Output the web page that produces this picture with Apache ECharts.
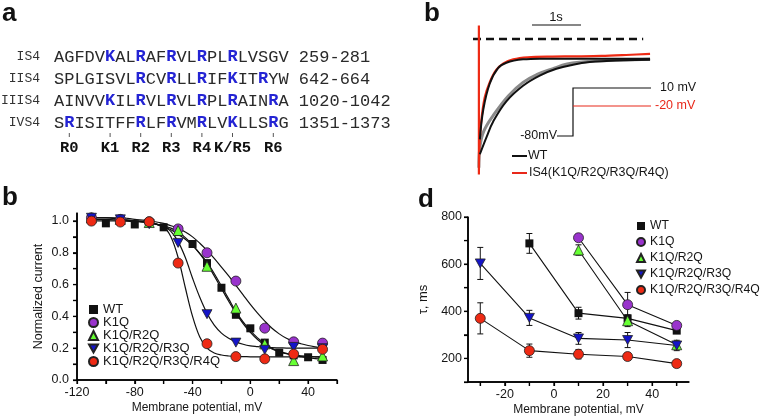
<!DOCTYPE html>
<html>
<head>
<meta charset="utf-8">
<script src="https://cdn.jsdelivr.net/npm/echarts@6/dist/echarts.min.js"></script>
<style>
html, body { margin: 0; padding: 0; background: #fff; }
#main { width: 761px; height: 417px; }
</style>
</head>
<body>
<div id="main"></div>
<script>
// panel a - S4 sequences, [X] = charged residue
var segNames = ['IS4', 'IIS4', 'IIIS4', 'IVS4'];
var segSeqs = [
    'AGFDV[K]AL[R]AF[R]VL[R]PL[R]LVSGV',
    'SPLGISVL[R]CV[R]LL[R]IF[K]IT[R]YW',
    'AINVV[K]IL[R]VL[R]VL[R]PL[R]AIN[R]A',
    'S[R]ISITFF[R]LF[R]VM[R]LV[K]LLS[R]G'
];
var segRanges = ['259-281', '642-664', '1020-1042', '1351-1373'];
var chargeLabels = ['R0', 'K1', 'R2', 'R3', 'R4', 'K/R5', 'R6'];
var chargePos = [1, 5, 8, 11, 14, 17, 21];

// panel b (top) - current traces, time (s) vs normalized current
var fastFitT = [0.02, 0.09, 0.22, 0.39, 0.56, 0.9, 1.24, 2.0, 3.49];
var fastFitI = [-0.74, -0.52, -0.33, -0.215, -0.175, -0.15, -0.145, -0.145, -0.145];
var slowFitT = [0.02, 0.16, 0.29, 0.56, 0.9, 1.24, 1.58, 1.92, 2.26, 2.6, 2.94, 3.49];
var slowFitI = [-0.85, -0.72, -0.61, -0.46, -0.345, -0.27, -0.22, -0.19, -0.17, -0.162, -0.157, -0.154];
var wtTraceT = [0.0, 0.02, 0.1, 0.3, 0.6, 0.9, 1.2, 1.5, 1.8, 2.1, 2.5, 3.0, 3.49];
var wtTraceI = [-0.95, -0.8, -0.68, -0.56, -0.42, -0.32, -0.26, -0.22, -0.185, -0.17, -0.16, -0.155, -0.15];
var mutTraceT = [0, 0, 0.01, 0.05, 0.12, 0.22, 0.35, 0.5, 0.7, 1.0, 1.5, 2.0, 2.5, 3.0, 3.49];
var mutTraceI = [0.1, -1.0, -0.8, -0.6, -0.43, -0.32, -0.23, -0.18, -0.15, -0.135, -0.13, -0.128, -0.125, -0.118, -0.11];
var zeroT = [-0.12, 3.35];

// panel b (bottom) - steady-state inactivation
var names = ['WT', 'K1Q', 'K1Q/R2Q', 'K1Q/R2Q/R3Q', 'K1Q/R2Q/R3Q/R4Q'];
var colors = ['#111111', '#9933cc', '#66ff33', '#1414c8', '#ee2a14'];
var wtV = [-110, -100, -90, -80, -70, -60, -50, -40, -30, -20, -10, 0, 10, 20, 30, 40, 50];
var wtI = [1.01, 0.985, 1.0, 0.978, 0.99, 0.96, 0.93, 0.855, 0.735, 0.58, 0.41, 0.325, 0.235, 0.172, 0.155, 0.143, 0.126];
var mutV = [-110, -90, -70, -50, -30, -10, 10, 30, 50];
var k1qI = [1.02, 1.01, 0.995, 0.95, 0.8, 0.622, 0.326, 0.24, 0.232];
var r2qI = [1.02, 1.01, 0.99, 0.94, 0.715, 0.452, 0.227, 0.122, 0.151];
var r3qI = [1.02, 1.01, 0.98, 0.862, 0.414, 0.235, 0.19, 0.208, 0.2];
var r4qI = [0.999, 0.993, 0.995, 0.735, 0.228, 0.147, 0.133, 0.163, 0.193];
var fitV = [-110, -100, -90, -80, -70, -60, -55, -50, -45, -40, -35, -30, -25, -20, -15, -10, -5, 0, 5, 10, 15, 20, 25, 30, 35, 40, 45, 50];
var fitWT = [1.01, 1.01, 1.005, 1.0, 0.99, 0.965, 0.945, 0.915, 0.885, 0.845, 0.795, 0.74, 0.67, 0.59, 0.51, 0.43, 0.365, 0.31, 0.265, 0.23, 0.2, 0.18, 0.167, 0.155, 0.147, 0.14, 0.135, 0.132];
var fitK1Q = [1.02, 1.02, 1.02, 1.01, 1.0, 0.985, 0.97, 0.955, 0.93, 0.9, 0.86, 0.815, 0.765, 0.71, 0.655, 0.595, 0.535, 0.475, 0.42, 0.37, 0.325, 0.29, 0.262, 0.242, 0.228, 0.217, 0.208, 0.2];
var fitR2Q = [1.02, 1.02, 1.01, 1.0, 0.99, 0.97, 0.955, 0.93, 0.895, 0.85, 0.795, 0.73, 0.655, 0.575, 0.495, 0.42, 0.355, 0.3, 0.255, 0.22, 0.195, 0.177, 0.165, 0.157, 0.152, 0.148, 0.146, 0.145];
var fitR3Q = [1.02, 1.02, 1.01, 1.0, 0.99, 0.965, 0.935, 0.87, 0.77, 0.64, 0.52, 0.42, 0.345, 0.295, 0.262, 0.24, 0.225, 0.215, 0.21, 0.205, 0.203, 0.202, 0.201, 0.2, 0.2, 0.2, 0.2, 0.2];
var fitR4Q = [1.0, 1.0, 1.0, 0.995, 0.99, 0.96, 0.9, 0.77, 0.58, 0.4, 0.27, 0.2, 0.17, 0.157, 0.151, 0.148, 0.147, 0.146, 0.145, 0.145, 0.145, 0.145, 0.145, 0.145, 0.145, 0.145, 0.145, 0.145];

// panel d - inactivation time constants (ms) with errors
var tauWTV = [-10, 10, 30, 50];
var tauWT = [688, 392, 370, 318];
var tauWTErr = [42, 25, 12, 10];
var tauK1QV = [10, 30, 50];
var tauK1Q = [712, 428, 340];
var tauK1QErr = [15, 52, 10];
var tauR2QV = [10, 30, 50];
var tauR2Q = [660, 360, 258];
var tauR2QErr = [22, 25, 12];
var tauR3QV = [-30, -10, 10, 30, 50];
var tauR3Q = [603, 372, 285, 278, 255];
var tauR3QErr = [68, 32, 25, 32, 22];
var tauR4QV = [-30, -10, 10, 30, 50];
var tauR4Q = [370, 233, 218, 208, 178];
var tauR4QErr = [66, 28, 20, 15, 8];

var SANS = 'Liberation Sans, Arial, sans-serif';
var MONO = 'Liberation Mono, Courier New, monospace';
var INK = '#161616';
var downTri = 'path://M0,0L10,0L5,9Z';
var symbols = ['rect', 'circle', 'triangle', downTri, 'circle'];
var symSizes = [8, 10, 10, [10, 9], 10];

function zip(xs, ys) {
    return xs.map(function (x, i) { return [x, ys[i]]; });
}
function range(a, b, step) {
    var out = [];
    for (var v = a; v <= b + 1e-9; v += step) out.push(Math.round(v * 100) / 100);
    return out;
}

var myChart = echarts.init(document.getElementById('main'));

// ---- graphic: panel a text, panel labels, protocol sketch ----
var graphics = [];
function txt(x, y, text, opt) {
    var s = {
        x: x, y: y, text: text, fontFamily: SANS, fontSize: 12.5, fill: INK,
        align: 'left', verticalAlign: 'middle'
    };
    for (var k in opt) s[k] = opt[k];
    graphics.push({ type: 'text', style: s, z: 10 });
}
function seg(x1, y1, x2, y2, color, w) {
    graphics.push({
        type: 'line', shape: { x1: x1, y1: y1, x2: x2, y2: y2 },
        style: { stroke: color, lineWidth: w }, z: 10
    });
}

var seqX = 54, charW = 10.2, rowY = [57, 79, 101, 123];
segSeqs.forEach(function (s, i) {
    var rich = s.replace(/\[(\w)\]/g, '{b|$1}') + ' ' + segRanges[i];
    txt(40, rowY[i], segNames[i], { align: 'right', fontFamily: MONO, fontSize: 13, fill: '#333' });
    txt(seqX, rowY[i], rich, {
        fontFamily: MONO, fontSize: 17, fill: '#2a2a2a',
        rich: { b: { fontFamily: MONO, fontSize: 17, fontWeight: 'bold', fill: '#2424d4' } }
    });
});
chargePos.forEach(function (p, i) {
    var cx = seqX + charW * (p + 0.5);
    seg(cx, 133, cx, 137, '#555', 1);
    txt(cx, 148, chargeLabels[i], { align: 'center', fontFamily: MONO, fontSize: 15.5, fontWeight: 'bold', fill: '#111' });
});

txt(2, 14, 'a', { fontSize: 26, fontWeight: 'bold', fill: '#111' });
txt(424, 14, 'b', { fontSize: 26, fontWeight: 'bold', fill: '#111' });
txt(2, 198, 'b', { fontSize: 26, fontWeight: 'bold', fill: '#111' });
txt(418, 200, 'd', { fontSize: 26, fontWeight: 'bold', fill: '#111' });

// scale bar + voltage protocol + trace legend
seg(532, 25, 581, 25, '#111', 1.2);
txt(556, 17, '1s', { align: 'center', fontSize: 13 });
graphics.push({
    type: 'polyline', shape: { points: [[557, 136], [573, 136], [573, 88], [651, 88]] },
    style: { stroke: '#111', lineWidth: 1.2, fill: null }, z: 10
});
seg(573, 106, 651, 106, '#e8281a', 1.2);
txt(557, 136, '-80mV', { align: 'right' });
txt(660, 88, '10 mV');
txt(655, 106, '-20 mV', { fill: '#e8281a' });
seg(512, 156, 527, 156, '#111', 2);
txt(528, 156, 'WT');
seg(512, 173, 527, 173, '#e8281a', 2);
txt(529, 173, 'IS4(K1Q/R2Q/R3Q/R4Q)');

// ---- axes ----
var ssiXTicks = range(-120, 60, 20), ssiYTicks = range(0, 1, 0.1);
var tauXTicks = range(-30, 50, 10), tauYTicks = range(100, 800, 100);

function axLine() {
    return { show: true, onZero: false, lineStyle: { color: '#000', width: 1.5 } };
}
function axTick(vals) {
    return { show: true, customValues: vals, length: 4, lineStyle: { color: '#000', width: 1.2 } };
}
function axLabel(vals, margin, fmt) {
    var l = { show: true, customValues: vals, margin: margin, color: INK, fontSize: 12.5, fontFamily: SANS };
    if (fmt) l.formatter = fmt;
    return l;
}

var option = {
    animation: false,
    backgroundColor: '#fff',
    graphic: graphics,
    grid: [
        { left: 473, top: 20, width: 180, height: 160 },
        { left: 77, top: 213, width: 260, height: 167 },
        { left: 468, top: 217, width: 221, height: 165 }
    ],
    xAxis: [
        { gridIndex: 0, type: 'value', min: -0.12, max: 3.55, show: false },
        {
            gridIndex: 1, type: 'value', min: -120, max: 60, position: 'bottom',
            axisLine: axLine(), splitLine: { show: false },
            axisTick: axTick(ssiXTicks),
            axisLabel: axLabel([-120, -80, -40, 0, 40], 6),
            name: 'Membrane potential, mV', nameLocation: 'middle', nameGap: 22,
            nameTextStyle: { color: INK, fontSize: 12, fontFamily: SANS, padding: [0, 20, 0, 0] }
        },
        {
            gridIndex: 2, type: 'value', min: -35, max: 55, position: 'bottom',
            axisLine: axLine(), splitLine: { show: false },
            axisTick: axTick(tauXTicks),
            axisLabel: axLabel([-20, 0, 20, 40], 6),
            name: 'Membrane potential, mV', nameLocation: 'middle', nameGap: 22,
            nameTextStyle: { color: INK, fontSize: 12, fontFamily: SANS }
        }
    ],
    yAxis: [
        { gridIndex: 0, type: 'value', min: -1.04, max: 0.14, show: false },
        {
            gridIndex: 1, type: 'value', min: 0, max: 1.05, position: 'left',
            axisLine: axLine(), splitLine: { show: false },
            axisTick: axTick(ssiYTicks),
            axisLabel: axLabel(range(0, 1, 0.2), 8, function (v) { return v.toFixed(1); }),
            name: 'Normalized current', nameLocation: 'middle', nameGap: 32,
            nameTextStyle: { color: INK, fontSize: 12.5, fontFamily: SANS }
        },
        {
            gridIndex: 2, type: 'value', min: 100, max: 800, position: 'left',
            axisLine: axLine(), splitLine: { show: false },
            axisTick: axTick(tauYTicks),
            axisLabel: axLabel([200, 400, 600, 800], 6),
            name: 'τ, ms', nameLocation: 'middle', nameGap: 38,
            nameTextStyle: { color: INK, fontSize: 13, fontFamily: SANS }
        }
    ],
    legend: [
        {
            data: names, orient: 'vertical', left: 83, top: 298,
            itemWidth: 9, itemHeight: 9, itemGap: 0,
            textStyle: { color: INK, fontSize: 13, fontFamily: SANS, lineHeight: 12 },
            selectedMode: false
        },
        {
            data: names, orient: 'vertical', left: 631, top: 214,
            itemWidth: 8, itemHeight: 8, itemGap: 2,
            textStyle: { color: INK, fontSize: 12.2, fontFamily: SANS, lineHeight: 14 },
            selectedMode: false
        }
    ],
    series: []
};

// traces
option.series.push(
    { type: 'line', xAxisIndex: 0, yAxisIndex: 0, data: zip(zeroT, [0, 0]), showSymbol: false,
      lineStyle: { color: '#111', width: 2.4, type: [8, 5] }, silent: true },
    { type: 'line', xAxisIndex: 0, yAxisIndex: 0, data: zip(wtTraceT, wtTraceI), showSymbol: false, smooth: 0.4,
      lineStyle: { color: '#8a8a8a', width: 3 } },
    { type: 'line', xAxisIndex: 0, yAxisIndex: 0, data: zip(mutTraceT, mutTraceI), showSymbol: false, smooth: 0.3,
      lineStyle: { color: '#ee2a14', width: 2.2 } },
    { type: 'line', xAxisIndex: 0, yAxisIndex: 0, data: zip(slowFitT, slowFitI), showSymbol: false, smooth: 0.4,
      lineStyle: { color: '#111', width: 2 } },
    { type: 'line', xAxisIndex: 0, yAxisIndex: 0, data: zip(fastFitT, fastFitI), showSymbol: false, smooth: 0.4,
      lineStyle: { color: '#111', width: 2 } }
);

// inactivation curves + points
var fits = [fitWT, fitK1Q, fitR2Q, fitR3Q, fitR4Q];
fits.forEach(function (f) {
    option.series.push({
        type: 'line', xAxisIndex: 1, yAxisIndex: 1, data: zip(fitV, f), showSymbol: false,
        smooth: 0.35, lineStyle: { color: '#111', width: 1.2 }, z: 1, silent: true
    });
});
var ssiX = [wtV, mutV, mutV, mutV, mutV];
var ssiY = [wtI, k1qI, r2qI, r3qI, r4qI];
names.forEach(function (n, i) {
    option.series.push({
        name: n, type: 'scatter', xAxisIndex: 1, yAxisIndex: 1, data: zip(ssiX[i], ssiY[i]),
        symbol: symbols[i], symbolSize: symSizes[i], z: 3,
        itemStyle: { color: colors[i], borderColor: '#222', borderWidth: i === 0 ? 0 : 0.8, opacity: 1 }
    });
});

// tau panel
function errorBars(xs, ys, errs) {
    return {
        type: 'custom', xAxisIndex: 2, yAxisIndex: 2, z: 1, silent: true,
        data: xs.map(function (x, i) { return [x, ys[i] - errs[i], ys[i] + errs[i]]; }),
        renderItem: function (params, api) {
            var lo = api.coord([api.value(0), api.value(1)]);
            var hi = api.coord([api.value(0), api.value(2)]);
            var hw = 3, st = { stroke: '#111', lineWidth: 1 };
            return {
                type: 'group', children: [
                    { type: 'line', shape: { x1: lo[0], y1: lo[1], x2: hi[0], y2: hi[1] }, style: st },
                    { type: 'line', shape: { x1: lo[0] - hw, y1: lo[1], x2: lo[0] + hw, y2: lo[1] }, style: st },
                    { type: 'line', shape: { x1: hi[0] - hw, y1: hi[1], x2: hi[0] + hw, y2: hi[1] }, style: st }
                ]
            };
        }
    };
}
var tauX = [tauWTV, tauK1QV, tauR2QV, tauR3QV, tauR4QV];
var tauY = [tauWT, tauK1Q, tauR2Q, tauR3Q, tauR4Q];
var tauE = [tauWTErr, tauK1QErr, tauR2QErr, tauR3QErr, tauR4QErr];
names.forEach(function (n, i) {
    option.series.push(errorBars(tauX[i], tauY[i], tauE[i]));
    option.series.push({
        name: n, type: 'line', xAxisIndex: 2, yAxisIndex: 2, data: zip(tauX[i], tauY[i]),
        symbol: symbols[i], symbolSize: symSizes[i], showSymbol: true, z: 2,
        lineStyle: { color: '#111', width: 1.1 },
        itemStyle: { color: colors[i], borderColor: '#222', borderWidth: i === 0 ? 0 : 0.8 }
    });
});

myChart.setOption(option);

// axis frame + ticks, placed through each grid's own scales
function frameFor(gi, xMin, xMax, yMin, yMax, xTicks, yTicks) {
    var out = [];
    var toPx = function (x, y) {
        return myChart.convertToPixel({ gridIndex: gi }, [x, y]);
    };
    var tl = toPx(xMin, yMax), bl = toPx(xMin, yMin), br = toPx(xMax, yMin);
    if (!tl || !bl || !br) return out;
    out.push({
        type: 'polyline', shape: { points: [tl, bl, br] },
        style: { stroke: '#000', lineWidth: 1.5, fill: null }, z: 20, silent: true
    });
    xTicks.forEach(function (v) {
        var p = toPx(v, yMin);
        out.push({ type: 'line', shape: { x1: p[0], y1: p[1], x2: p[0], y2: p[1] + 4 },
            style: { stroke: '#000', lineWidth: 1.2 }, z: 20, silent: true });
    });
    yTicks.forEach(function (v) {
        var p = toPx(xMin, v);
        out.push({ type: 'line', shape: { x1: p[0] - 4, y1: p[1], x2: p[0], y2: p[1] },
            style: { stroke: '#000', lineWidth: 1.2 }, z: 20, silent: true });
    });
    return out;
}
var frames = frameFor(1, -120, 60, 0, 1.05, ssiXTicks, ssiYTicks)
    .concat(frameFor(2, -35, 55, 100, 800, tauXTicks, tauYTicks));
myChart.setOption({ graphic: graphics.concat(frames) });
</script>
</body>
</html>
